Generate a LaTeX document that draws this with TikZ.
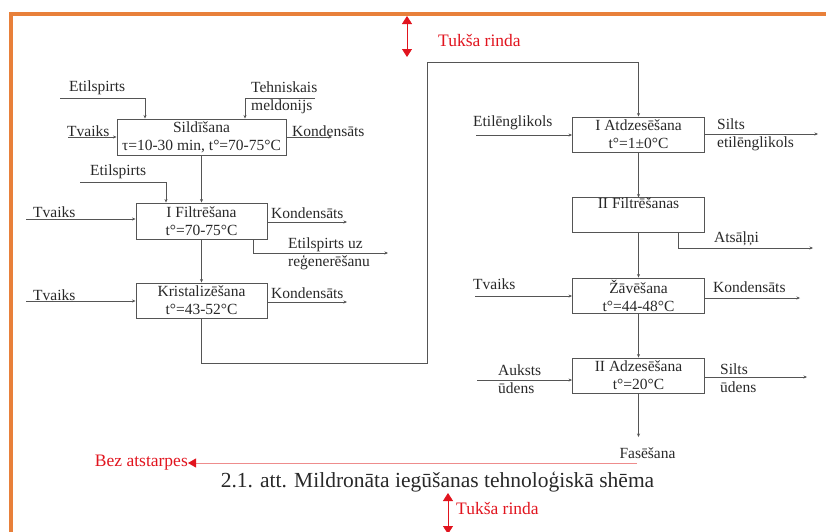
\documentclass[tikz,border=0pt]{standalone}
\usepackage{fontspec}
\setmainfont{Liberation Serif}
\usetikzlibrary{arrows.meta}
\definecolor{frameorange}{RGB}{232,128,58}
\definecolor{lin}{RGB}{85,85,85}
\definecolor{markred}{RGB}{225,20,30}
\definecolor{pinkline}{RGB}{238,140,140}
\definecolor{txt}{RGB}{40,40,40}
\begin{document}
\begin{tikzpicture}[x=1pt,y=-1pt,
  proc/.style={draw=lin, line width=0.9pt, rectangle, minimum width=#1, minimum height=35pt,
    inner sep=0pt, align=center, font=\fontsize{15.5}{18}\selectfont, text=txt},
  lbl/.style={inner sep=0pt, anchor=west, align=left, font=\fontsize{15.5}{18}\selectfont, text=txt},
  flow/.style={draw=lin, line width=0.8pt, -{Stealth[length=3.5pt,width=3pt]}},
  redtxt/.style={inner sep=0pt, font=\fontsize{17.5}{20}\selectfont, text=markred},
  redarrow/.style={draw=markred, line width=0.8pt, {Triangle[length=8pt,width=10pt]}-{Triangle[length=8pt,width=10pt]}},
]
\useasboundingbox (0,0) rectangle (826,531);
% frame
\draw[frameorange, line width=4pt] (10.5,540) -- (10.5,13.5) -- (830,13.5);

% process boxes
\node[proc=169pt, minimum height=36pt] (s1) at (201.5,137) {Sildīšana\\τ=10-30 min, t°=70-75°C};
\node[proc=131pt, minimum height=36pt] (f1) at (201.5,221) {I Filtrēšana\\t°=70-75°C};
\node[proc=131pt] (kr) at (201.5,300.5) {Kristalizēšana\\t°=43-52°C};
\node[proc=132pt] (a1) at (638.5,134.5) {I Atdzesēšana\\t°=1±0°C};
\node[proc=132pt, minimum height=34pt] (f2) at (638.5,215) {II Filtrēšanas\\\strut};
\node[proc=132pt] (z) at (638.5,295.5) {Žāvēšana\\t°=44-48°C};
\node[proc=132pt] (a2) at (638.5,375.5) {II Adzesēšana\\t°=20°C};

% free ends
\coordinate (e1) at (60,98);
\coordinate (tm) at (315,98);
\coordinate (tv1) at (68,137);
\coordinate (k1) at (332,137);
\coordinate (e2) at (80,182);
\coordinate (tv2) at (26,219);
\coordinate (k2) at (347,222);
\coordinate (r1) at (388,253);
\coordinate (tv3) at (26,301);
\coordinate (k3) at (347,302);
\coordinate (j1) at (427,363);
\coordinate (j2) at (427,62);
\coordinate (eg) at (476,135);
\coordinate (se) at (818,134);
\coordinate (as) at (813,248);
\coordinate (tv4) at (475,296);
\coordinate (k4) at (800,298);
\coordinate (au) at (477,380);
\coordinate (su) at (807,377);
\coordinate (fa) at (638.5,437);

% connectors
\draw[flow] (e1) -| ([xshift=-56.5pt]s1.north);
\draw[flow] (tm) -| ([xshift=43.5pt]s1.north);
\draw[flow] (tv1) -- (tv1 -| s1.west);
\draw[flow] (k1 -| s1.east) -- (k1);
\draw[flow] (s1.south) -- (f1.north);

\draw[flow] (e2) -| ([xshift=-35.5pt]f1.north);
\draw[flow] (tv2) -- (tv2 -| f1.west);
\draw[flow] (k2 -| f1.east) -- (k2);
\draw[flow] ([xshift=51.5pt]f1.south) |- (r1);
\draw[flow] (f1.south) -- (kr.north);

\draw[flow] (tv3) -- (tv3 -| kr.west);
\draw[flow] (k3 -| kr.east) -- (k3);
\draw[flow] (kr.south) |- (j1) -- (j2) -| (a1.north);

\draw[flow] (eg) -- (eg -| a1.west);
\draw[flow] (se -| a1.east) -- (se);
\draw[flow] (a1.south) -- (f2.north);

\draw[flow] ([xshift=39.5pt]f2.south) |- (as);
\draw[flow] (f2.south) -- (z.north);

\draw[flow] (tv4) -- (tv4 -| z.west);
\draw[flow] (k4 -| z.east) -- (k4);
\draw[flow] (z.south) -- (a2.north);

\draw[flow] (au) -- (au -| a2.west);
\draw[flow] (su -| a2.east) -- (su);
\draw[flow] (a2.south) -- (fa);

% labels
\node[lbl] (l1) at (69,88) {Etilspirts};
\node[lbl] (l2) at (251,98) {Tehniskais\\meldonijs};
\node[lbl] (l3) at (67,131) {Tvaiks};
\node[lbl] (l4) at (292,131) {Kondensāts};
\node[lbl] (l5) at (90,172) {Etilspirts};
\node[lbl] (l6) at (33,212) {Tvaiks};
\node[lbl] (l7) at (271,213) {Kondensāts};
\node[lbl] (l8) at (288,253.5) {Etilspirts uz\\reģenerēšanu};
\node[lbl] (l9) at (33,295) {Tvaiks};
\node[lbl] (l10) at (271,293) {Kondensāts};
\node[lbl] (l11) at (473,123) {Etilēnglikols};
\node[lbl] (l12) at (717,134.5) {Silts\\etilēnglikols};
\node[lbl] (l13) at (714,239) {Atsāļņi};
\node[lbl] (l14) at (473,284) {Tvaiks};
\node[lbl] (l15) at (713,287) {Kondensāts};
\node[lbl] (l16) at (498,379.5) {Auksts\\ūdens};
\node[lbl] (l17) at (720,378) {Silts\\ūdens};
\node[lbl, anchor=center] (l18) at (647.5,453) {Fasēšana};

% caption
\node[inner sep=0pt, font=\fontsize{21.5}{24}\selectfont, text=txt] (cap) at (437.5,482) {2.1. att. Mildronāta iegūšanas tehnoloģiskā shēma};

% red annotations
\coordinate (t1) at (407,16);
\coordinate (t2) at (407,57);
\draw[redarrow] (t1) -- (t2);
\node[redtxt, anchor=west] (tr1) at (438,40) {Tukša rinda};

\coordinate (b1) at (448,493);
\coordinate (b2) at (448,534);
\draw[redarrow] (b1) -- (b2);
\node[redtxt, anchor=west] (tr2) at (456,508) {Tukša rinda};

\coordinate (pa) at (637,463);
\node[redtxt, anchor=east] (bz) at (188,463) {Bez atstarpes};
\draw[draw=pinkline, line width=0.8pt, -{Triangle[length=8pt,width=9pt,color=markred]}] (pa) -- (bz.east);
\end{tikzpicture}
\end{document}
